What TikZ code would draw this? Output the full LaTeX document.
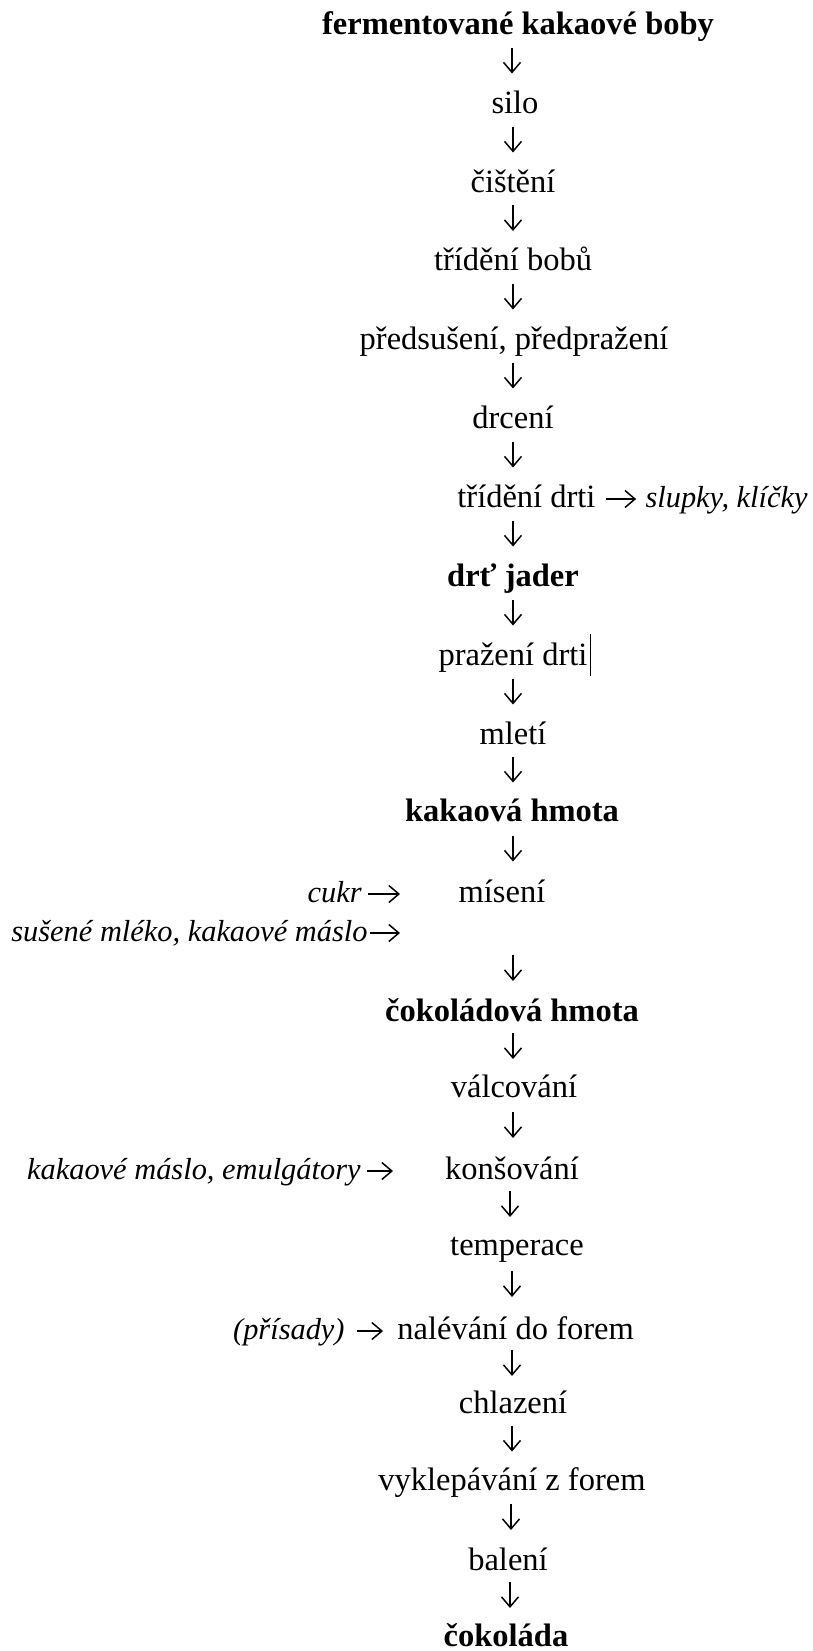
\documentclass[tikz,border=0pt]{standalone}
\usepackage{fontspec}
\setmainfont{Liberation Serif}
\usetikzlibrary{arrows.meta,calc}
\begin{document}
\begin{tikzpicture}[x=0.5pt,y=-0.5pt,
  lbl/.style={anchor=base,inner sep=0pt,font=\fontsize{16.25}{19}\selectfont},
  lblb/.style={lbl,font=\fontsize{16.25}{19}\selectfont\bfseries},
  lbli/.style={lbl,font=\fontsize{15.2}{18}\selectfont\itshape},
  arr/.style={line width=0.75pt,-{Straight Barb[length=5pt,width=8.5pt]}},
]
\fill[white] (0,0) rectangle (813,1651);
\useasboundingbox (0,0) rectangle (813,1651);

% main column
\node[lblb] (n0)  at (518,34)   {fermentované kakaové boby};
\node[lbl]  (n1)  at (515,113)  {silo};
\node[lbl]  (n2)  at (513,192)  {čištění};
\node[lbl]  (n3)  at (513,270)  {třídění bobů};
\node[lbl]  (n4)  at (514,349)  {předsušení, předpražení};
\node[lbl]  (n5)  at (513,428)  {drcení};
\node[lbl,anchor=base west] (n6) at (457,507) {třídění drti};
\node[lbli,anchor=base east] (sl) at (808,507) {slupky, klíčky};
\node[lblb] (n7)  at (513,586)  {drť jader};
\node[lbl]  (n8)  at (513,665)  {pražení drti};
\node[lbl]  (n9)  at (513,744)  {mletí};
\node[lblb] (n10) at (512,821)  {kakaová hmota};
\node[lbl]  (n11) at (502,902)  {mísení};
\node[lbli,anchor=base east] (cukr) at (362,902) {cukr};
\node[lbli,anchor=base east] (sus) at (368,941) {sušené mléko, kakaové máslo};
\node[lblb] (n12) at (512,1021) {čokoládová hmota};
\node[lbl]  (n13) at (514,1097) {válcování};
\node[lbl]  (n14) at (512,1179) {konšování};
\node[lbli,anchor=base east] (kme) at (361,1179) {kakaové máslo, emulgátory};
\node[lbl]  (n15) at (517,1255) {temperace};
\node[lbl,anchor=base west] (n16) at (397,1339) {nalévání do forem};
\node[lbli,anchor=base east] (pris) at (345,1339) {(přísady)};
\node[lbl]  (n17) at (513,1413) {chlazení};
\node[lbl]  (n18) at (512,1490) {vyklepávání z forem};
\node[lbl]  (n19) at (508,1570) {balení};
\node[lblb] (n20) at (506,1646) {čokoláda};

% free ends of side arrows
\coordinate (cukrE) at (400,894);
\coordinate (susE)  at (400,933);
\coordinate (kmeE)  at (393,1171);

% vertical arrows
\foreach \a/\b/\cx in {n0/n1/512,n1/n2/513,n2/n3/513,n3/n4/513,n4/n5/513,n5/n6/513,
  n6/n7/513,n7/n8/513,n8/n9/513,n9/n10/513,n10/n11/513,sus/n12/513,n12/n13/513,
  n13/n14/513,n14/n15/510,n15/n16/512,n16/n17/512,n17/n18/512,n18/n19/511,n19/n20/510}{
  \coordinate (m) at ($(\a.base)!0.5!(\b.base)$);
  \draw[arr] let \p1=(m) in (\cx*0.5pt,\y1+13pt) -- (\cx*0.5pt,\y1);
}

% horizontal arrows
\draw[arr] ([xshift=5pt,yshift=4pt]n6.base east) -- ([xshift=-4.5pt,yshift=4pt]sl.base west);
\draw[arr] ([xshift=3pt,yshift=4pt]cukr.base east) -- (cukrE);
\draw[arr] ([xshift=1pt,yshift=4pt]sus.base east) -- (susE);
\draw[arr] ([xshift=3pt,yshift=4pt]kme.base east) -- (kmeE);
\draw[arr] ([xshift=6pt,yshift=4pt]pris.base east) -- ([xshift=-7pt,yshift=4pt]n16.base west);

% text cursor mark after "pražení drti"
\draw[line width=0.5pt] (590,634) -- (590,676);
\end{tikzpicture}
\end{document}
